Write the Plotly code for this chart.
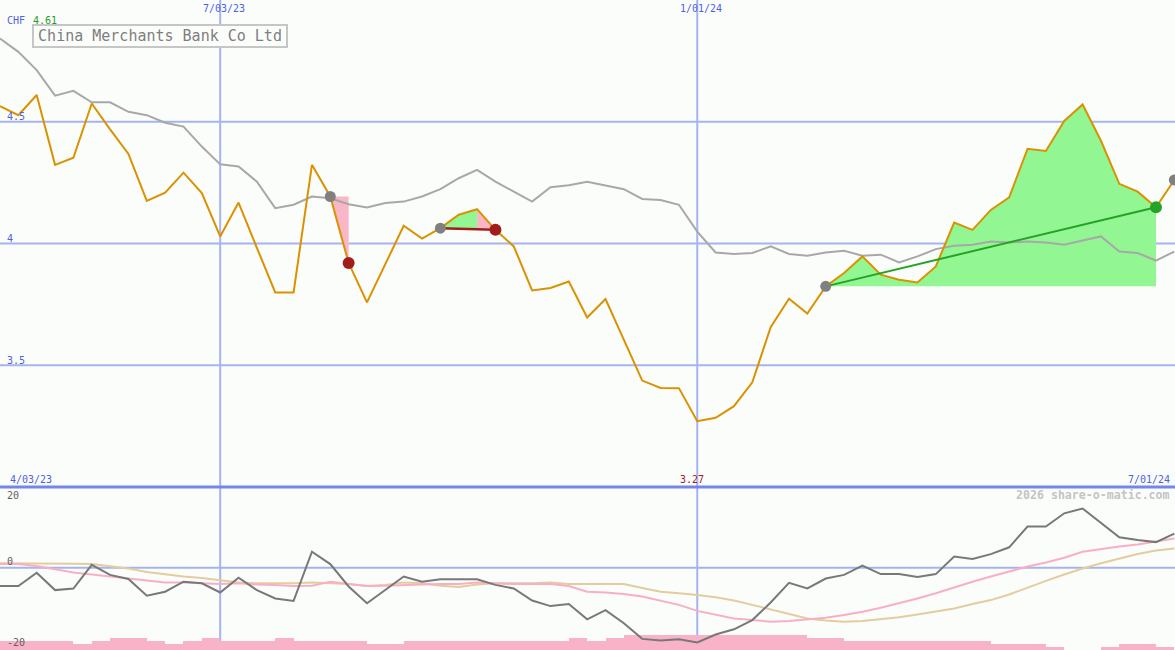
import plotly.graph_objects as go

# ---------------- data ----------------
dates = [
    "2023-04-10", "2023-04-17", "2023-04-24", "2023-05-01", "2023-05-08", "2023-05-15", "2023-05-22",
    "2023-05-29", "2023-06-05", "2023-06-12", "2023-06-19", "2023-06-26", "2023-07-03", "2023-07-10",
    "2023-07-17", "2023-07-24", "2023-07-31", "2023-08-07", "2023-08-14", "2023-08-21", "2023-08-28",
    "2023-09-04", "2023-09-11", "2023-09-18", "2023-09-25", "2023-10-02", "2023-10-09", "2023-10-16",
    "2023-10-23", "2023-10-30", "2023-11-06", "2023-11-13", "2023-11-20", "2023-11-27", "2023-12-04",
    "2023-12-11", "2023-12-18", "2023-12-25", "2024-01-01", "2024-01-08", "2024-01-15", "2024-01-22",
    "2024-01-29", "2024-02-05", "2024-02-12", "2024-02-19", "2024-02-26", "2024-03-04", "2024-03-11",
    "2024-03-18", "2024-03-25", "2024-04-01", "2024-04-08", "2024-04-15", "2024-04-22", "2024-04-29",
    "2024-05-06", "2024-05-13", "2024-05-20", "2024-05-27", "2024-06-03", "2024-06-10", "2024-06-17",
    "2024-06-24", "2024-07-01",
]

close = [
    4.564, 4.527, 4.61, 4.323, 4.352, 4.575, 4.469, 4.368, 4.175, 4.209,
    4.291, 4.207, 4.029, 4.168, 3.982, 3.799, 3.799, 4.323, 4.193, 3.920,
    3.758, 3.913, 4.073, 4.020, 4.063, 4.118, 4.141, 4.056, 3.988, 3.807,
    3.817, 3.844, 3.696, 3.772, 3.605, 3.437, 3.407, 3.406, 3.27, 3.284,
    3.332, 3.430, 3.656, 3.773, 3.712, 3.824, 3.879, 3.947, 3.872, 3.851,
    3.840, 3.906, 4.086, 4.056, 4.138, 4.190, 4.389, 4.380, 4.503, 4.571,
    4.422, 4.245, 4.213, 4.149, 4.261,
]

moving_avg = [
    4.842, 4.787, 4.712, 4.607, 4.627, 4.580, 4.580, 4.541, 4.527, 4.496,
    4.480, 4.398, 4.325, 4.316, 4.254, 4.145, 4.159, 4.193, 4.186, 4.161,
    4.148, 4.166, 4.172, 4.193, 4.223, 4.268, 4.302, 4.254, 4.213, 4.172,
    4.231, 4.239, 4.254, 4.238, 4.223, 4.183, 4.179, 4.159, 4.049, 3.963,
    3.957, 3.961, 3.988, 3.957, 3.950, 3.963, 3.970, 3.950, 3.954, 3.922,
    3.947, 3.977, 3.991, 3.995, 4.008, 4.004, 4.008, 4.004, 3.995, 4.012,
    4.029, 3.967, 3.961, 3.930, 3.967,
]

momentum = [
    -4.6, -4.6, -1.25, -5.6, -5.2, 0.7, -1.8, -2.8, -7.0, -6.0,
    -3.5, -3.9, -6.2, -2.5, -5.6, -7.7, -8.3, 4.0, 0.9, -4.7,
    -8.9, -5.6, -2.2, -3.5, -2.9, -2.9, -2.9, -4.3, -5.2, -8.2,
    -9.6, -9.1, -12.9, -10.6, -13.9, -17.8, -18.2, -17.9, -18.7, -16.7,
    -15.4, -13.1, -8.7, -3.8, -5.2, -2.7, -1.8, 0.5, -1.6, -1.6,
    -2.3, -1.6, 2.8, 2.2, 3.4, 5.1, 10.3, 10.3, 13.6, 14.8,
    11.1, 7.6, 6.9, 6.4, 8.5,
]

momentum_mid = [
    0.9, 0.9, 0.4, -0.4, -1.2, -1.7, -2.2, -2.8, -3.3, -3.7,
    -3.7, -3.9, -4.1, -3.9, -4.2, -4.3, -4.6, -4.5, -3.5, -4.1,
    -4.6, -4.5, -4.3, -4.2, -4.1, -4.1, -3.7, -3.9, -4.1, -4.1,
    -4.1, -4.6, -6.0, -6.2, -6.6, -7.2, -8.2, -9.3, -10.8, -11.8,
    -12.7, -13.1, -13.5, -13.3, -12.9, -12.5, -11.8, -11.0, -10.0, -8.9,
    -7.7, -6.4, -4.9, -3.5, -2.2, -1.0, 0.3, 1.3, 2.5, 4.0,
    4.7, 5.3, 5.8, 6.5, 7.3,
]

momentum_slow = [
    1.1, 1.1, 1.1, 1.1, 1.0, 0.9, 0.4, -0.2, -1.1, -1.7,
    -2.2, -2.6, -3.2, -3.7, -3.9, -3.9, -3.9, -3.7, -3.9, -4.1,
    -4.6, -4.3, -3.7, -3.9, -4.5, -4.8, -4.2, -3.9, -3.9, -3.9,
    -3.7, -4.1, -4.1, -4.1, -4.1, -5.1, -6.0, -6.4, -6.8, -7.4,
    -8.2, -9.3, -10.4, -11.5, -12.7, -13.2, -13.5, -13.3, -12.9, -12.4,
    -11.7, -11.0, -10.2, -9.1, -8.1, -6.7, -4.9, -3.3, -1.7, -0.2,
    1.1, 2.3, 3.4, 4.3, 4.8,
]

volume = [
    9, 9, 9, 9, 6, 9, 12, 12, 9, 6,
    9, 12, 9, 9, 9, 12, 9, 9, 9, 9,
    6, 6, 9, 9, 9, 9, 9, 9, 9, 9,
    9, 12, 9, 12, 15, 15, 15, 15, 15, 15,
    15, 15, 15, 15, 12, 12, 9, 9, 9, 9,
    9, 9, 9, 9, 6, 6, 6, 3, 0, 0,
    3, 6, 6, 3,
]

price_levels = [3.5, 4.0, 4.5]
price_labels = ["3.5", "4", "4.5"]
lower_levels = [20, 0, -20]
lower_labels = ["20", "0", "-20"]
date_tick_idx = [12, 38]
date_tick_labels = ["7/03/23", "1/01/24"]
start_label = "4/03/23"
end_label = "7/01/24"
title = "China Merchants Bank Co Ltd"
currency = "CHF"
watermark = "2026 share-o-matic.com"

# trades: (start, peak, end)
loss_trades = [(18, 18, 19), (24, 26, 27)]
gain_trades = [(45, 63)]
open_marker = 64

# ---------------- styles ----------------
BG = "#FBFDFB"
GRID = "#A6B3F1"
SEP = "#7585EE"
BLUE_TXT = "#4F5FE6"
ORANGE = "#DA9200"
MA_GREY = "#A8A8A8"
GREEN_FILL = "#92F792"
PINK_FILL = "#F9B6C6"
RED = "#A31C1C"
GREEN = "#26A226"
DOT_GREY = "#808080"
FONT = "DejaVu Sans Mono"
WEEK_MS = 7 * 24 * 3600 * 1000

fig = go.Figure()

# volume-like bars (lower panel, base axis y2)
fig.add_trace(go.Bar(
    x=dates[:-1], y=volume, width=[WEEK_MS] * len(volume), offset=0,
    marker=dict(color="#F9B3C8", line=dict(width=0)), yaxis="y2", xaxis="x",
))

# lower panel lines (axis y3 overlaying y2)
fig.add_trace(go.Scatter(x=dates, y=momentum_slow, mode="lines",
                         line=dict(color="#E3CD9E", width=2), yaxis="y3"))
fig.add_trace(go.Scatter(x=dates, y=momentum_mid, mode="lines",
                         line=dict(color="#F8AFC6", width=2), yaxis="y3"))
fig.add_trace(go.Scatter(x=dates, y=momentum, mode="lines",
                         line=dict(color="#787878", width=2), yaxis="y3"))


def area(i0, i1, base, color):
    xs = dates[i0:i1 + 1] + [dates[i1], dates[i0]]
    ys = close[i0:i1 + 1] + [base, base]
    fig.add_trace(go.Scatter(x=xs, y=ys, mode="lines", fill="toself",
                             fillcolor=color, line=dict(width=0), yaxis="y"))


for s, p, e in loss_trades:
    base = close[s]
    if p > s:
        area(s, p, base, GREEN_FILL)
    area(p, e, base, PINK_FILL)
for s, e in gain_trades:
    area(s, e, close[s], GREEN_FILL)

# moving average and price
fig.add_trace(go.Scatter(x=dates, y=moving_avg, mode="lines",
                         line=dict(color=MA_GREY, width=2), yaxis="y"))
fig.add_trace(go.Scatter(x=dates, y=close, mode="lines",
                         line=dict(color=ORANGE, width=2), yaxis="y"))

# trade connectors and markers
for s, p, e in loss_trades:
    if e - s > 1:
        fig.add_trace(go.Scatter(x=[dates[s], dates[e]], y=[close[s], close[e]], mode="lines",
                                 line=dict(color=RED, width=2.5), yaxis="y"))
for s, e in gain_trades:
    fig.add_trace(go.Scatter(x=[dates[s], dates[e]], y=[close[s], close[e]], mode="lines",
                             line=dict(color=GREEN, width=2), yaxis="y"))

starts = [t[0] for t in loss_trades] + [t[0] for t in gain_trades] + [open_marker]
fig.add_trace(go.Scatter(x=[dates[i] for i in starts], y=[close[i] for i in starts], mode="markers",
                         marker=dict(color=DOT_GREY, size=11), yaxis="y"))
fig.add_trace(go.Scatter(x=[dates[t[2]] for t in loss_trades], y=[close[t[2]] for t in loss_trades],
                         mode="markers", marker=dict(color=RED, size=12), yaxis="y"))
fig.add_trace(go.Scatter(x=[dates[t[1]] for t in gain_trades], y=[close[t[1]] for t in gain_trades],
                         mode="markers", marker=dict(color=GREEN, size=12), yaxis="y"))

# ---------------- grid shapes ----------------
shapes = []
for lv in price_levels:
    shapes.append(dict(type="line", xref="paper", x0=0, x1=1, yref="y", y0=lv, y1=lv,
                       line=dict(color=GRID, width=2), layer="below"))
shapes.append(dict(type="line", xref="paper", x0=0, x1=1, yref="y3", y0=0, y1=0,
                   line=dict(color=GRID, width=2), layer="below"))
for i in date_tick_idx:
    shapes.append(dict(type="line", xref="x", x0=dates[i], x1=dates[i], yref="paper", y0=0, y1=1,
                       line=dict(color=GRID, width=2), layer="below"))
shapes.append(dict(type="line", xref="paper", x0=0, x1=1, yref="y domain", y0=0, y1=0,
                   line=dict(color=SEP, width=3), layer="below"))

# ---------------- text ----------------
W, H = 1175, 650
ann = []


def txt(text, x, y, xref="paper", yref="paper", xanchor="left", yanchor="middle",
        color=BLUE_TXT, size=10, xshift=0, yshift=0, **kw):
    ann.append(dict(text=text, x=x, y=y, xref=xref, yref=yref, xanchor=xanchor, yanchor=yanchor,
                    showarrow=False, font=dict(family=FONT, size=size, color=color),
                    xshift=xshift, yshift=yshift, **kw))


txt(currency, 5 / W, 1 - 20 / H)
txt(f"{max(close):.2f}", 31 / W, 1 - 20 / H, color="#1E9E1E")
for lv, lb in zip(price_levels, price_labels):
    txt(lb, 5 / W, lv, yref="y", yshift=5)
for lv, lb, sh in zip(lower_levels, lower_labels, [-8, 6, 5]):
    txt(lb, 5 / W, lv, yref="y3", yshift=sh, color="#606060")
for i, lb in zip(date_tick_idx, date_tick_labels):
    txt(lb, dates[i], 1 - 9 / H, xref="x", xanchor="center", xshift=4)
txt(start_label, 8 / W, 1 - 479 / H)
txt(end_label, 1172 / W, 1 - 479 / H, xanchor="right")
imin = close.index(min(close))
txt(f"{min(close):.2f}", dates[imin], 1 - 479 / H, xref="x", xanchor="center", xshift=-5, color=RED)
txt("<b>" + watermark + "</b>", 1172 / W, 1 - 495 / H, xanchor="right", color="#C4C4C4", size=11.6)
ann.append(dict(text=title, x=32 / W, y=1 - 24 / H, xref="paper", yref="paper",
                xanchor="left", yanchor="top", showarrow=False,
                font=dict(family=FONT, size=15, color="#7E7E7E"),
                bordercolor="#C6C6C6", borderwidth=2, borderpad=2, width=248, height=16,
                bgcolor=BG))

lower_h = 163 / H
fig.update_layout(
    width=W, height=H, margin=dict(l=0, r=0, t=0, b=0),
    paper_bgcolor=BG, plot_bgcolor=BG, showlegend=False,
    xaxis=dict(type="date", range=[dates[0], "2024-07-01 06:00"], visible=False, anchor="y"),
    yaxis=dict(domain=[lower_h, 1], range=[3.0, 5.0], visible=False),
    yaxis2=dict(domain=[0, lower_h], range=[0, 163], visible=False, anchor="x"),
    yaxis3=dict(overlaying="y2", range=[-20.58, 20.18], visible=False, anchor="x"),
    shapes=shapes, annotations=ann, bargap=0,
)

fig.write_html(
    "out.html",
    config={"displayModeBar": False},
    post_script="document.body.style.margin='0';document.body.style.background='" + BG + "';",
)
